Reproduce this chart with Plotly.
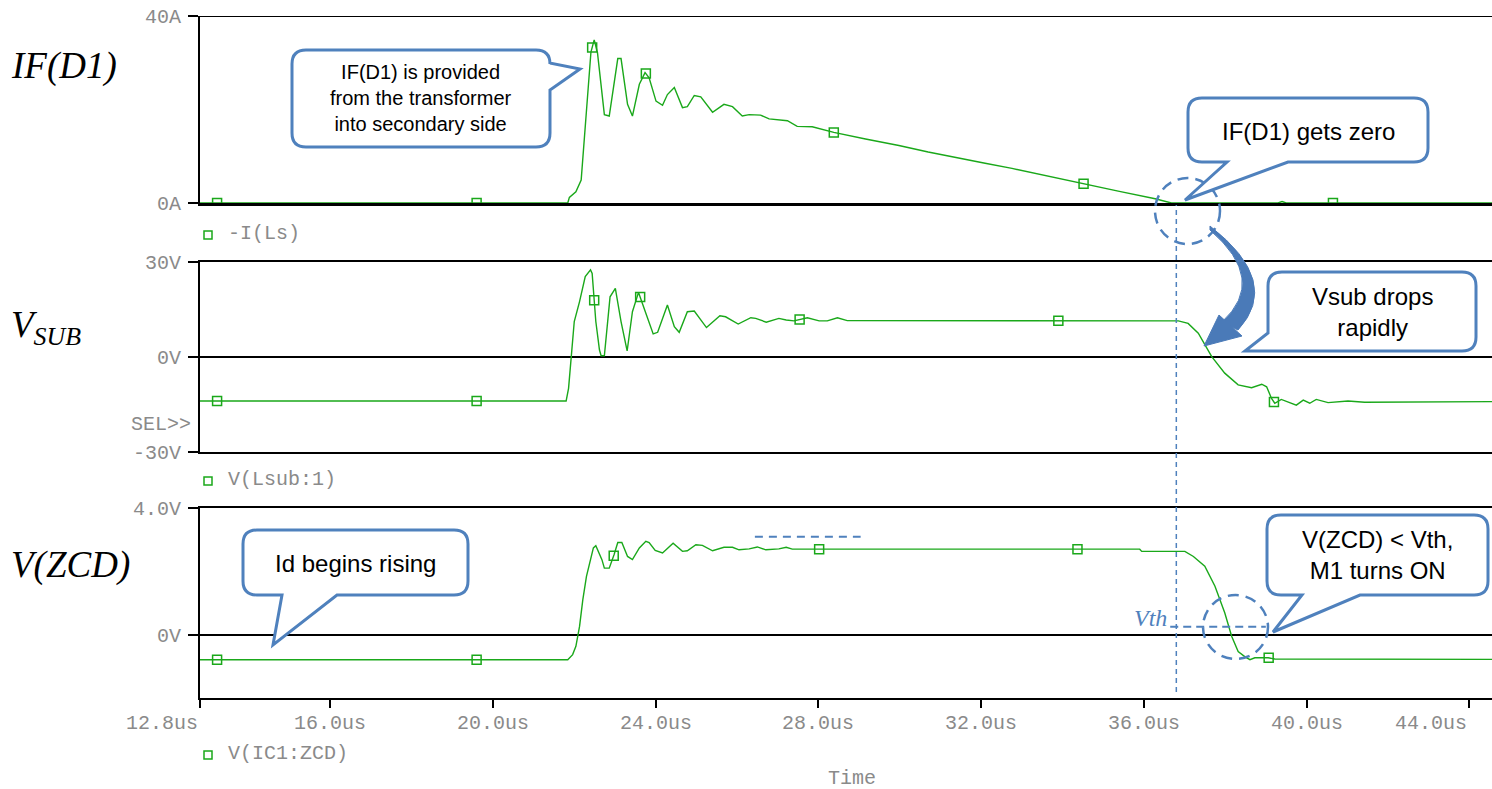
import numpy as np
import plotly.graph_objects as go

W, H = 1492, 789

# ---------------- time axis (us) ----------------
T_START, T_END = 12.8, 44.56
TIME_TICKS = [12.8, 16.0, 20.0, 24.0, 28.0, 32.0, 36.0, 40.0, 44.0]
TIME_LABELS = ["12.8us", "16.0us", "20.0us", "24.0us", "28.0us",
               "32.0us", "36.0us", "40.0us", "44.0us"]

# ---------------- IF(D1) = -I(Ls) [A] ----------------
IF_T = [12.8, 21.84, 21.88, 22.04, 22.17, 22.25, 22.33, 22.41, 22.49, 22.57,
        22.74, 22.86, 23.07, 23.15, 23.31, 23.43, 23.60, 23.74, 23.84, 24.01,
        24.17, 24.29, 24.46, 24.66, 24.78, 24.95, 25.11, 25.40, 25.68, 25.89,
        26.13, 26.30, 26.58, 26.79, 27.24, 27.48, 27.85, 28.38, 29.16, 29.98,
        30.70, 31.53, 32.10, 32.76, 33.60, 34.52, 35.40, 36.28, 36.68, 39.30,
        39.40, 39.50, 44.56]
IF_A = [0.0, 0.0, 1.2, 2.4, 4.9, 14.3, 25.0, 32.3, 34.9, 32.2,
        18.9, 18.6, 30.9, 30.9, 21.1, 18.6, 25.4, 27.9, 26.8, 21.8,
        20.9, 23.2, 24.7, 20.4, 20.6, 23.0, 22.7, 19.4, 21.1, 20.6,
        18.6, 18.9, 18.8, 18.0, 17.6, 16.4, 16.3, 15.1, 13.7, 12.3,
        10.9, 9.4, 8.5, 7.4, 5.8, 4.1, 2.5, 0.9, 0.0, 0.0,
        0.3, 0.0, 0.0]
IF_MARK_T = [13.22, 19.6, 22.44, 23.76, 28.38, 34.52, 40.65]
IF_TICKS = [0, 40]
IF_TICK_LABELS = ["0A", "40A"]

# ---------------- V(Lsub:1) [V] ----------------
VSUB_T = [12.8, 21.80, 21.86, 21.92, 22.00, 22.13, 22.27, 22.40, 22.44, 22.53,
          22.62, 22.66, 22.74, 22.88, 23.01, 23.15, 23.30, 23.43, 23.58, 23.76,
          23.94, 24.05, 24.29, 24.46, 24.58, 24.78, 24.95, 25.25, 25.58, 25.72,
          26.03, 26.34, 26.46, 26.72, 27.03, 27.21, 27.40, 27.73, 28.02, 28.22,
          28.47, 28.71, 36.85, 37.09, 37.34, 37.67, 37.99, 38.32, 38.65, 38.90,
          39.02, 39.14, 39.22, 39.38, 39.59, 39.75, 39.92, 40.08, 40.24, 40.53,
          41.02, 41.43, 44.56]
VSUB_V = [-13.9, -13.9, -9.9, -0.4, 11.2, 17.5, 25.4, 27.5, 26.4, 11.2,
          2.2, 0.4, 0.4, 19.0, 21.7, 11.2, 1.9, 14.3, 20.4, 13.8,
          7.3, 7.8, 16.4, 9.6, 7.8, 14.3, 14.5, 9.3, 13.0, 12.7,
          10.4, 12.4, 12.2, 11.0, 12.2, 11.7, 11.4, 12.4, 11.4, 11.4,
          12.4, 11.5, 11.4, 10.6, 7.5, 0.1, -5.1, -8.8, -9.7, -8.6,
          -9.4, -13.1, -14.6, -13.4, -14.4, -15.2, -13.6, -14.6, -13.4, -14.4,
          -13.9, -14.3, -14.1]
VSUB_MARK_T = [13.22, 19.6, 22.49, 23.62, 27.54, 33.9, 39.2]
VSUB_TICKS = [-30, 0, 30]
VSUB_TICK_LABELS = ["-30V", "0V", "30V"]

# ---------------- V(IC1:ZCD) [V] ----------------
ZCD_T = [12.8, 21.84, 21.96, 22.04, 22.13, 22.21, 22.30, 22.41, 22.47, 22.53,
         22.62, 22.68, 22.74, 22.86, 22.98, 23.07, 23.17, 23.31, 23.43, 23.60,
         23.76, 23.84, 23.99, 24.17, 24.43, 24.66, 24.78, 24.99, 25.15, 25.40,
         25.68, 25.89, 26.05, 26.30, 26.50, 26.71, 27.03, 27.21, 27.36, 35.90,
         35.95, 37.01, 37.22, 37.50, 37.75, 37.99, 38.16, 38.32, 38.49, 38.61,
         38.73, 39.06, 39.22, 44.56]
ZCD_V = [-0.79, -0.79, -0.63, -0.37, 0.26, 1.10, 1.84, 2.42, 2.74, 2.81,
         2.53, 2.37, 2.10, 2.10, 2.53, 2.91, 2.91, 2.47, 2.37, 2.74,
         2.95, 2.91, 2.66, 2.58, 2.89, 2.63, 2.65, 2.84, 2.82, 2.65,
         2.76, 2.76, 2.68, 2.71, 2.77, 2.68, 2.71, 2.76, 2.70, 2.70,
         2.63, 2.63, 2.47, 2.16, 1.53, 0.69, -0.05, -0.53, -0.70, -0.79,
         -0.73, -0.73, -0.77, -0.78]
ZCD_MARK_T = [13.22, 19.6, 22.97, 28.02, 34.37, 39.07]
ZCD_TICKS = [0, 4]
ZCD_TICK_LABELS = ["0V", "4.0V"]

T_ZERO = 36.8          # instant IF(D1) reaches zero
VTH = 0.25             # ZCD threshold
ZCD_LEVEL = 3.09       # reference level drawn over the ZCD plateau
ZCD_LEVEL_T = [26.44, 29.04]

GREEN = "#1aa81a"
BLUE = "#4f81bd"
MONO = "Liberation Mono, Courier New, monospace"
SANS = "Liberation Sans, Arial, sans-serif"
SERIF = "Liberation Serif, Times New Roman, serif"
TICK_GRAY = "#8a8a8a"


def px(x):
    return x / W


def py(y):
    return 1 - y / H


def P(x, y):
    return f"{px(x):.5f},{py(y):.5f}"


def callout(x0, y0, x1, y1, r, side, a, b, tip):
    d = f"M{P(x0 + r, y0)} L{P(x1 - r, y0)} Q{P(x1, y0)} {P(x1, y0 + r)}"
    if side == "right":
        d += f" L{P(x1, a)} L{P(*tip)} L{P(x1, b)}"
    d += f" L{P(x1, y1 - r)} Q{P(x1, y1)} {P(x1 - r, y1)}"
    if side == "bottom":
        d += f" L{P(b, y1)} L{P(*tip)} L{P(a, y1)}"
    if side == "corner":
        d += f" L{P(x0 + a, y1)} L{P(*tip)} L{P(x0, b)}"
        d += f" L{P(x0, y0 + r)} Q{P(x0, y0)} {P(x0 + r, y0)} Z"
        return d
    d += f" L{P(x0 + r, y1)} Q{P(x0, y1)} {P(x0, y1 - r)}"
    d += f" L{P(x0, y0 + r)} Q{P(x0, y0)} {P(x0 + r, y0)} Z"
    return d


fig = go.Figure()

panels = [
    ("x", "y", IF_T, IF_A, IF_MARK_T),
    ("x2", "y2", VSUB_T, VSUB_V, VSUB_MARK_T),
    ("x3", "y3", ZCD_T, ZCD_V, ZCD_MARK_T),
]
for xa, ya, t, v, mt in panels:
    fig.add_trace(go.Scatter(x=t, y=v, xaxis=xa, yaxis=ya, mode="lines",
                             line=dict(color=GREEN, width=1.4),
                             hoverinfo="skip", showlegend=False))
    fig.add_trace(go.Scatter(x=mt, y=np.interp(mt, t, v), xaxis=xa, yaxis=ya,
                             mode="markers",
                             marker=dict(symbol="square-open", size=9, color=GREEN,
                                         line=dict(width=1.5, color=GREEN)),
                             hoverinfo="skip", showlegend=False))

x_dom = [200 / W, 1.0]
common_x = dict(domain=x_dom, range=[T_START, T_END], showgrid=False,
                zeroline=False, showticklabels=False, fixedrange=True,
                automargin=False)
fig.update_layout(
    xaxis=dict(**common_x, anchor="y", showline=True, linecolor="black",
               linewidth=3, layer="below traces", ticks=""),
    xaxis2=dict(**common_x, anchor="y2", showline=True, mirror=True,
                linecolor="black", linewidth=2, ticks=""),
    xaxis3=dict(**common_x, anchor="y3", showline=True, mirror=True,
                linecolor="black", linewidth=2, ticks="outside",
                tickvals=TIME_TICKS, ticklen=8, tickwidth=1.5,
                tickcolor="black"),
)

common_y = dict(showgrid=False, showline=True, linecolor="black", linewidth=2,
                ticks="outside", ticklen=10, tickwidth=1.5, tickcolor="black",
                tickfont=dict(family=MONO, size=20, color=TICK_GRAY),
                ticklabelstandoff=3, fixedrange=True, automargin=False)
fig.update_layout(
    yaxis=dict(**common_y, domain=[py(203), py(16)], range=[0, 40],
               anchor="x", tickvals=IF_TICKS, ticktext=IF_TICK_LABELS,
               zeroline=False),
    yaxis2=dict(**common_y, domain=[py(452), py(262)], range=[-30, 30],
                anchor="x2", tickvals=VSUB_TICKS, ticktext=VSUB_TICK_LABELS,
                zeroline=True, zerolinecolor="black", zerolinewidth=1.5),
    yaxis3=dict(**common_y, domain=[py(698), py(508)], range=[-2, 4],
                anchor="x3", tickvals=ZCD_TICKS, ticktext=ZCD_TICK_LABELS,
                zeroline=True, zerolinecolor="black", zerolinewidth=1.5),
)

shapes = []
# top border of the IF(D1) panel
shapes.append(dict(type="line", xref="paper", yref="y", x0=x_dom[0], x1=1,
                   y0=40, y1=40, line=dict(color="black", width=2)))

# timing guides
shapes.append(dict(type="line", xref="x3", yref="paper", x0=T_ZERO, x1=T_ZERO,
                   y0=py(692), y1=py(205),
                   line=dict(color=BLUE, width=1.5, dash="5px,4px")))
shapes.append(dict(type="line", xref="x3", yref="y3", x0=36.65, x1=39.0,
                   y0=VTH, y1=VTH,
                   line=dict(color=BLUE, width=2, dash="8px,5px")))
shapes.append(dict(type="line", xref="x3", yref="y3", x0=ZCD_LEVEL_T[0],
                   x1=ZCD_LEVEL_T[1], y0=ZCD_LEVEL, y1=ZCD_LEVEL,
                   line=dict(color=BLUE, width=2, dash="8px,6px")))

# dashed rings
for (cx0, cy0, cx1, cy1) in [(1155, 178, 1220, 244), (1203, 595, 1268, 659)]:
    shapes.append(dict(type="circle", xref="paper", yref="paper",
                       x0=px(cx0), x1=px(cx1), y0=py(cy1), y1=py(cy0),
                       line=dict(color=BLUE, width=2.5, dash="11px,7px")))

# callouts
callouts = [
    (292, 50, 550, 147, 14, "right", 63, 90, (580, 69)),
    (1188, 98, 1428, 162, 14, "bottom", 1227, 1288, (1185, 200)),
    (1268, 272, 1476, 351, 14, "corner", 6, 333, (1245, 351)),
    (243, 530, 468, 595, 14, "bottom", 282, 337, (273, 645)),
    (1267, 515, 1488, 595, 14, "bottom", 1302, 1360, (1273, 632)),
]
for c in callouts:
    shapes.append(dict(type="path", xref="paper", yref="paper", path=callout(*c),
                       fillcolor="white", line=dict(color=BLUE, width=3)))

# curved arrow between the panels
body = (f"M{P(1210, 226)} Q{P(1282, 282)} {P(1238, 330)} L{P(1222, 322)} "
        f"Q{P(1268, 280)} {P(1210, 230)} Z")
head = f"M{P(1242, 336)} L{P(1204, 346)} L{P(1219, 315)} Z"
for d in (body, head):
    shapes.append(dict(type="path", xref="paper", yref="paper", path=d,
                       fillcolor="#4a7ab8", line=dict(color="#4a7ab8", width=1)))

# legend swatches
for yc in (235, 481, 755):
    shapes.append(dict(type="rect", xref="paper", yref="paper",
                       x0=px(204), x1=px(212), y0=py(yc + 4), y1=py(yc - 4),
                       line=dict(color=GREEN, width=1.5)))

annotations = []
# time tick labels
for i, (tv, tl) in enumerate(zip(TIME_TICKS, TIME_LABELS)):
    anchor = "right" if i in (0, len(TIME_TICKS) - 1) else "center"
    annotations.append(dict(xref="x3", yref="paper", x=tv, y=py(723), text=tl,
                            showarrow=False, xanchor=anchor, yanchor="middle",
                            font=dict(family=MONO, size=20, color=TICK_GRAY)))
annotations.append(dict(xref="paper", yref="paper", x=px(852), y=py(778),
                        text="Time", showarrow=False, xanchor="center",
                        yanchor="middle",
                        font=dict(family=MONO, size=20, color=TICK_GRAY)))
annotations.append(dict(xref="paper", yref="paper", x=px(193), y=py(424),
                        text="SEL>>", showarrow=False, xanchor="right",
                        yanchor="middle",
                        font=dict(family=MONO, size=20, color=TICK_GRAY)))
for txt, yc in (("-I(Ls)", 233), ("V(Lsub:1)", 479), ("V(IC1:ZCD)", 753)):
    annotations.append(dict(xref="paper", yref="paper", x=px(226), y=py(yc),
                            text=txt, showarrow=False, xanchor="left",
                            yanchor="middle",
                            font=dict(family=MONO, size=20, color=TICK_GRAY)))

# panel names
for txt, yc in (("<i>IF(D1)</i>", 66), ("<i>V<sub>SUB</sub></i>", 328),
                ("<i>V(ZCD)</i>", 565)):
    annotations.append(dict(xref="paper", yref="paper", x=px(9), y=py(yc),
                            text=txt, showarrow=False, xanchor="left",
                            yanchor="middle",
                            font=dict(family=SERIF, size=37, color="black")))

# callout texts
notes = [
    ("IF(D1) is provided<br>from the transformer<br>into secondary side", 421, 98, 20),
    ("IF(D1) gets zero", 1308, 131, 24),
    ("Vsub drops<br>rapidly", 1372, 312, 24),
    ("Id begins rising", 355, 563, 24),
    ("V(ZCD) &lt; Vth,<br>M1 turns ON", 1377, 555, 24),
]
for txt, xc, yc, fs in notes:
    annotations.append(dict(xref="paper", yref="paper", x=px(xc), y=py(yc),
                            text=txt, showarrow=False, xanchor="center",
                            yanchor="middle", align="center",
                            font=dict(family=SANS, size=fs, color="black")))

annotations.append(dict(xref="x3", yref="y3", x=36.62, y=VTH, text="<i>Vth</i>",
                        showarrow=False, xanchor="right", yanchor="bottom",
                        yshift=-6,
                        font=dict(family=SERIF, size=24, color=BLUE)))

fig.update_layout(
    width=W, height=H, margin=dict(l=0, r=0, t=0, b=0, pad=0, autoexpand=False),
    paper_bgcolor="white", plot_bgcolor="white",
    shapes=shapes, annotations=annotations, showlegend=False,
)

fig.write_html("out.html")
